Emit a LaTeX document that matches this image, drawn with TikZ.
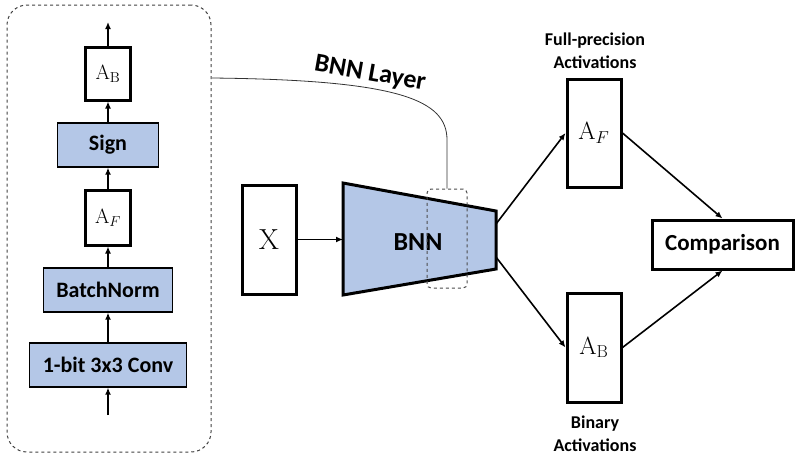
\documentclass[tikz,border=0pt]{standalone}
\usepackage[no-math]{fontspec}
\usepackage{xcolor}
\usepackage{tikz}
\usepackage{amsmath}
\usetikzlibrary{arrows.meta}
\newfontfamily\cali{Carlito}
\definecolor{bnnblue}{HTML}{B4C7E7}
\tikzset{
  layerbox/.style={draw, fill=bnnblue, line width=1.3pt, minimum height=44pt,
    font=\cali\bfseries\fontsize{22}{26}\selectfont},
  actbox/.style={draw, line width=3pt, minimum width=45pt},
  bigbox/.style={draw, line width=3pt, minimum width=54pt, minimum height=108pt,
    font=\fontsize{27}{30}\selectfont},
  flow/.style={-{Latex[length=7pt,width=6pt]}, line width=1.6pt},
  caption/.style={align=center, font=\cali\bfseries\fontsize{18}{23}\selectfont}
}

\begin{document}
\begin{tikzpicture}[x=1pt,y=-1pt]
\useasboundingbox (0,0) rectangle (800,456);

% left: one BNN layer
\node[draw, dashed, line width=1pt, rounded corners=20pt, minimum width=204pt,
  minimum height=447pt, color=black!75] (layer) at (109,228.5) {};
\node[layerbox, minimum width=157pt] (conv) at (108,365) {1-bit 3x3 Conv};
\node[layerbox, minimum width=129pt] (bn) at (108,290) {BatchNorm};
\node[actbox, minimum height=55pt, font=\fontsize{20}{24}\selectfont] (af) at (108,217.5) {$\mathrm{A}_F$};
\node[layerbox, minimum width=101pt] (sign) at (108,145) {Sign};
\node[actbox, minimum height=53pt, font=\fontsize{20}{24}\selectfont] (ab) at (108,73.5) {$\mathrm{A}_{\mathrm{B}}$};
\coordinate (in) at (108,415);
\coordinate (out) at (108,22);
\draw[flow] (in) -- (conv);
\draw[flow] (conv) -- (bn);
\draw[flow] (bn) -- (af);
\draw[flow] (af) -- (sign);
\draw[flow] (sign) -- (ab);
\draw[flow] (ab) -- (out);

% middle: input and network
\node[draw, line width=3pt, minimum width=54pt, minimum height=109pt,
  font=\fontsize{29}{32}\selectfont] (x) at (269,239.5) {X};
\coordinate (tl) at (343,183);
\coordinate (tr) at (496,211);
\coordinate (br) at (496,269);
\coordinate (bl) at (343,295);
\draw[fill=bnnblue, line width=3pt, line join=miter] (tl) -- (tr) -- (br) -- (bl) -- cycle;
\node[font=\cali\bfseries\fontsize{26}{30}\selectfont] (bnn) at (418,242) {BNN};
\node[draw, dashed, line width=1pt, rounded corners=4pt, color=black!70,
  minimum width=40pt, minimum height=99pt] (slice) at (447,238.5) {};
\draw[flow] (x.east) -- (x.east -| tl);
\coordinate (tap) at (212,78);
\draw[line width=0.8pt, color=black!80] (tap) .. controls (400,80) and (447,100) .. (447,140) -- (slice.north);
\node[font=\cali\bfseries\fontsize{26}{30}\selectfont, rotate=-10] (tag) at (370,74) {BNN Layer};

% right: the two activations
\node[bigbox] (fullact) at (594,133) {$\mathrm{A}_F$};
\node[bigbox, minimum height=109pt] (binact) at (594,347.5) {$\mathrm{A}_{\mathrm{B}}$};
\node[draw, line width=3pt, minimum width=141pt, minimum height=49pt,
  font=\cali\bfseries\fontsize{23}{27}\selectfont] (cmp) at (722.5,244.5) {Comparison};
\node[caption] (fulltxt) at (595,51) {Full-precision\\Activations};
\node[caption] (bintxt) at (595,434) {Binary\\Activations};
\coordinate (up) at (496,224);
\coordinate (down) at (496,257);
\draw[flow] (up) -- (fullact.west);
\draw[flow] (down) -- (binact.west);
\draw[flow] (fullact.east) -- (cmp.north);
\draw[flow] (binact.east) -- (cmp.south);
\end{tikzpicture}
\end{document}
